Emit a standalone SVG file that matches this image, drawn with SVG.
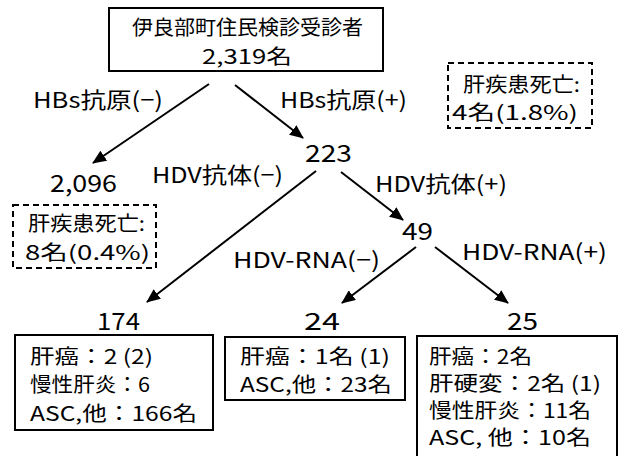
<svg xmlns="http://www.w3.org/2000/svg" width="626" height="456" viewBox="0 0 626 456">
<defs>
<style>
text{font-family:"Noto Sans CJK JP","Noto Sans",sans-serif;fill:#000;font-size:22px}
.num{font-size:24px}
.bt{font-size:20px}
.dt{font-size:20px}
.box{fill:#fff;stroke:#000;stroke-width:2}
.dash{fill:none;stroke:#000;stroke-width:2;stroke-dasharray:6 4}
.edge{stroke:#000;stroke-width:2;fill:none;marker-end:url(#ah)}
</style>
<marker id="ah" markerWidth="14" markerHeight="12" refX="13" refY="6" orient="auto" markerUnits="userSpaceOnUse">
<path d="M0,0 L14,6 L0,12 Z" fill="#000"/>
</marker>
</defs>
<rect width="626" height="456" fill="#fff"/>
<g id="connectors">
<line class="edge" x1="209" y1="84" x2="93" y2="163"/>
<line class="edge" x1="235" y1="85" x2="303" y2="138"/>
<line class="edge" x1="316" y1="171" x2="147" y2="302"/>
<line class="edge" x1="341" y1="172" x2="403" y2="220"/>
<line class="edge" x1="416" y1="247" x2="342" y2="303"/>
<line class="edge" x1="435" y1="247" x2="508" y2="303"/>
</g>
<g id="edge-labels">
<text x="33" y="108" textLength="130" lengthAdjust="spacingAndGlyphs">HBs抗原(−)</text>
<text x="280" y="108" textLength="127" lengthAdjust="spacingAndGlyphs">HBs抗原(+)</text>
<text x="152" y="183" textLength="131" lengthAdjust="spacingAndGlyphs">HDV抗体(−)</text>
<text x="375" y="192" textLength="132" lengthAdjust="spacingAndGlyphs">HDV抗体(+)</text>
<text x="233" y="268" textLength="147" lengthAdjust="spacingAndGlyphs">HDV-RNA(−)</text>
<text x="462" y="260" textLength="145" lengthAdjust="spacingAndGlyphs">HDV-RNA(+)</text>
</g>
<g id="n-root">
<rect class="box" x="109" y="8" width="274" height="63"/>
<text x="132" y="35" class="dt" textLength="231" lengthAdjust="spacingAndGlyphs">伊良部町住民検診受診者</text>
<text x="247" y="64" text-anchor="middle" class="dt" textLength="90" lengthAdjust="spacingAndGlyphs">2,319名</text>
</g>
<g id="n-death-total">
<rect class="dash" x="448" y="63" width="144" height="65"/>
<text x="463" y="92" class="dt" textLength="117" lengthAdjust="spacingAndGlyphs">肝疾患死亡:</text>
<text x="452" y="120" class="dt" textLength="126" lengthAdjust="spacingAndGlyphs">4名(1.8%)</text>
</g>
<g id="n-2096">
<text x="50" y="192" class="num" textLength="67" lengthAdjust="spacingAndGlyphs">2,096</text>
<rect class="dash" x="13" y="205" width="143" height="63"/>
<text x="28" y="231" class="dt" textLength="117" lengthAdjust="spacingAndGlyphs">肝疾患死亡:</text>
<text x="25" y="260" class="dt" textLength="125" lengthAdjust="spacingAndGlyphs">8名(0.4%)</text>
</g>
<g id="n-223">
<text x="305" y="162" class="num" textLength="47" lengthAdjust="spacingAndGlyphs">223</text>
</g>
<g id="n-49">
<text x="402" y="240" class="num" textLength="31" lengthAdjust="spacingAndGlyphs">49</text>
</g>
<g id="n-174">
<text x="97" y="330" class="num" textLength="43" lengthAdjust="spacingAndGlyphs">174</text>
<rect class="box" x="15" y="335" width="198" height="95"/>
<text x="30" y="364" class="bt" textLength="123" lengthAdjust="spacingAndGlyphs">肝癌：2 (2)</text>
<text x="30" y="392" class="bt" textLength="120" lengthAdjust="spacingAndGlyphs">慢性肝炎：6</text>
<text x="30" y="421" class="bt" textLength="167" lengthAdjust="spacingAndGlyphs">ASC,他：166名</text>
</g>
<g id="n-24">
<text x="304" y="330" class="num" textLength="36" lengthAdjust="spacingAndGlyphs">24</text>
<rect class="box" x="225" y="337" width="180" height="63"/>
<text x="240" y="364" class="bt" textLength="150" lengthAdjust="spacingAndGlyphs">肝癌：1名 (1)</text>
<text x="240" y="392" class="bt" textLength="152" lengthAdjust="spacingAndGlyphs">ASC,他：23名</text>
</g>
<g id="n-25">
<text x="507" y="330" class="num" textLength="31" lengthAdjust="spacingAndGlyphs">25</text>
<rect class="box" x="417" y="336" width="200" height="126"/>
<text x="429" y="364" class="bt" textLength="103" lengthAdjust="spacingAndGlyphs">肝癌：2名</text>
<text x="429" y="391" class="bt" textLength="172" lengthAdjust="spacingAndGlyphs">肝硬変：2名 (1)</text>
<text x="429" y="418" class="bt" textLength="162" lengthAdjust="spacingAndGlyphs">慢性肝炎：11名</text>
<text x="429" y="445" class="bt" textLength="162" lengthAdjust="spacingAndGlyphs">ASC, 他：10名</text>
</g>
</svg>
